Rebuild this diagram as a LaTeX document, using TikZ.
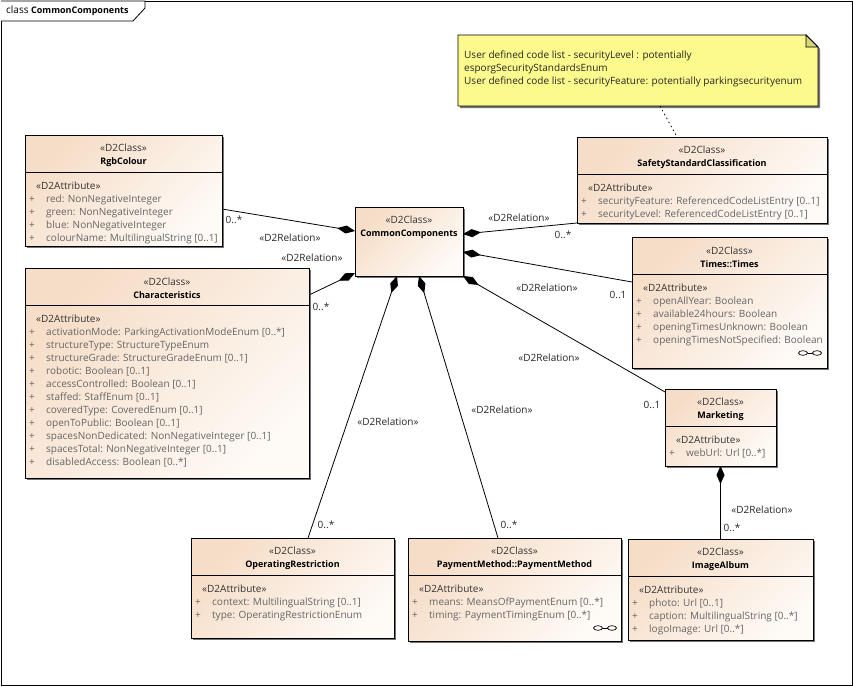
\documentclass[tikz,border=0pt]{standalone}
\usepackage{fontspec}
\setmainfont{Open Sans}
\usetikzlibrary{arrows.meta,shadows,backgrounds}
\definecolor{peach}{RGB}{246,221,199}
\definecolor{peachlight}{RGB}{254,250,246}
\definecolor{noteyellow}{RGB}{252,250,140}
\def\attr#1{\makebox[18pt][l]{\hspace*{1pt}+}#1}
\def\clsname#1{\textcolor{black}{\fontsize{9}{13}\selectfont\textbf{#1}}}
\def\linkicon(#1,#2){\draw[line width=0.7pt] (#1-7,#2) ellipse [x radius=4.5pt, y radius=2.3pt] (#1+7,#2) ellipse [x radius=4.5pt, y radius=2.3pt]; \draw[line width=0.7pt] (#1-2.5,#2) -- (#1+2.5,#2);}
\def\umlclass#1#2#3#4#5#6#7{%
	\node[classbox, minimum width={#4-#2}, minimum height={#5-#3}] (#1) at (#2,#3) {};
	\draw[line width=0.8pt] (#2,#3+37) -- (#4,#3+37);
	\node[classtitle] (#1T) at ({(#2+#4)/2},#3+20.5) {«D2Class»\\\clsname{#6}};
	\node[attrlist] (#1A) at (#2+3,#3+47) {\textcolor{black!80}{\hspace*{8pt}«D2Attribute»}\\#7};
}

\begin{document}
\begin{tikzpicture}[x=1pt,y=-1pt,
	classbox/.style={draw, line width=0.8pt, inner sep=0, outer sep=0, anchor=north west, top color=peach, bottom color=peachlight, shading angle=45, drop shadow={shadow xshift=2pt, shadow yshift=-2pt, fill=black!55, opacity=1}},
	classtitle/.style={align=center, inner sep=0, font=\fontsize{10}{13}\selectfont, text=black!80},
	attrlist/.style={align=left, anchor=north west, inner sep=0, font=\fontsize{10}{13}\selectfont, text=black!60},
	rel/.style={line width=0.8pt, {Diamond[length=18pt,width=8pt]}-},
	lbl/.style={inner sep=0, font=\fontsize{10}{12}\selectfont, text=black!85}]
			%%%%% FRAME %%%%%
			\useasboundingbox (0,0) rectangle (853,686);
			\draw[line width=0.8pt] (1,1) rectangle (852,685);
			\draw[line width=0.8pt, fill=white] (1,1) -- (145,1) -- (145,8) -- (133,21) -- (1,21);
			\node[anchor=west, inner sep=0, font=\fontsize{10}{12}\selectfont] (tab) at (6,11) {class \clsname{CommonComponents}};
			
			%%%%% NOTE %%%%%
			\node[minimum width=360, minimum height=71, inner sep=0, outer sep=0, anchor=north west] (note) at (458,35) {};
			\begin{scope}[on background layer]
				\draw[line width=0.8pt, fill=noteyellow, drop shadow={shadow xshift=2pt, shadow yshift=-2pt, fill=black!55, opacity=1}] (note.south west) -- (note.north west) -- ([xshift=-12pt]note.north east) -- ([yshift=-12pt]note.north east) -- (note.south east) -- cycle;
				\draw[line width=0.8pt, fill=noteyellow!85!black] ([xshift=-12pt]note.north east) -- ([xshift=-12pt,yshift=-12pt]note.north east) -- ([yshift=-12pt]note.north east) -- cycle;
			\end{scope}
			\node[anchor=north west, align=left, inner sep=0, font=\fontsize{10}{13}\selectfont, text=black!85] (noteT) at (464,51) {User defined code list - securityLevel : potentially\\esporgSecurityStandardsEnum\\User defined code list - securityFeature: potentially parkingsecurityenum};
			
			%%%%% CLASSES %%%%%
			\node[classbox, minimum width=108, minimum height=69] (cc) at (355,207) {};
			\node[classtitle] (ccT) at (409,227.5) {«D2Class»\\\clsname{CommonComponents}};
			
			\umlclass{rgb}{25}{135}{222}{246}{RgbColour}{\attr{red: NonNegativeInteger}\\\attr{green: NonNegativeInteger}\\\attr{blue: NonNegativeInteger}\\\attr{colourName: MultilingualString [0..1]}}
			
			\umlclass{chars}{25}{268}{309}{478}{Characteristics}{\attr{activationMode: ParkingActivationModeEnum [0..*]}\\\attr{structureType: StructureTypeEnum}\\\attr{structureGrade: StructureGradeEnum [0..1]}\\\attr{robotic: Boolean [0..1]}\\\attr{accessControlled: Boolean [0..1]}\\\attr{staffed: StaffEnum [0..1]}\\\attr{coveredType: CoveredEnum [0..1]}\\\attr{openToPublic: Boolean [0..1]}\\\attr{spacesNonDedicated: NonNegativeInteger [0..1]}\\\attr{spacesTotal: NonNegativeInteger [0..1]}\\\attr{disabledAccess: Boolean [0..*]}}
			
			\umlclass{ssc}{577}{137}{827}{223}{SafetyStandardClassification}{\attr{securityFeature: ReferencedCodeListEntry [0..1]}\\\attr{securityLevel: ReferencedCodeListEntry [0..1]}}
			
			\umlclass{times}{632}{237}{827}{368}{Times::Times}{\attr{openAllYear: Boolean}\\\attr{available24hours: Boolean}\\\attr{openingTimesUnknown: Boolean}\\\attr{openingTimesNotSpecified: Boolean}}
			\linkicon(810,353)
			
			\umlclass{mkt}{665}{389}{776}{466}{Marketing}{\attr{webUrl: Url [0..*]}}
			
			\umlclass{ia}{628}{539}{813}{640}{ImageAlbum}{\attr{photo: Url [0..1]}\\\attr{caption: MultilingualString [0..*]}\\\attr{logoImage: Url [0..*]}}
			
			\umlclass{opr}{191}{538}{394}{638}{OperatingRestriction}{\attr{context: MultilingualString [0..1]}\\\attr{type: OperatingRestrictionEnum}}
			
			\umlclass{pay}{408}{538}{621}{641}{PaymentMethod::PaymentMethod}{\attr{means: MeansOfPaymentEnum [0..*]}\\\attr{timing: PaymentTimingEnum [0..*]}}
			\linkicon(605,628)
			
			%%%%% RELATIONS %%%%%
			\draw[line width=0.8pt, dash pattern=on 1.5pt off 3pt] (note.south -| 660,0) -- (ssc.north -| 677,0);
			
			\draw[rel] (cc.west |- 0,231) -- (rgb.east |- 0,209);
			\node[lbl] (rgbM) at (234,220) {0..*};
			\node[lbl] (rgbR) at (290,238) {«D2Relation»};
			
			\draw[rel] (cc.west |- 0,273) -- (chars.east |- 0,295);
			\node[lbl] (charsM) at (321,307) {0..*};
			\node[lbl] (charsR) at (312,258) {«D2Relation»};
			
			\draw[rel] (cc.east |- 0,234) -- (ssc.south west);
			\node[lbl] (sscM) at (563,235) {0..*};
			\node[lbl] (sscR) at (519,218) {«D2Relation»};
			
			\draw[rel] (cc.east |- 0,252) -- (times.west |- 0,282);
			\node[lbl] (timesM) at (618,295) {0..1};
			\node[lbl] (timesR) at (547,288) {«D2Relation»};
			
			\draw[rel] (cc.south east) -- (mkt.west |- 0,392);
			\node[lbl] (mktM) at (652,405) {0..1};
			\node[lbl] (mktR) at (549,358) {«D2Relation»};
			
			\draw[rel] (cc.south -| 397,0) -- (opr.north -| 308,0);
			\node[lbl] (oprM) at (326,525) {0..*};
			\node[lbl] (oprR) at (388,422) {«D2Relation»};
			
			\draw[rel] (cc.south -| 419,0) -- (pay.north -| 498,0);
			\node[lbl] (payM) at (509,525) {0..*};
			\node[lbl] (payR) at (502,410) {«D2Relation»};
			
			\draw[rel] (mkt.south) -- (ia.north -| mkt.south);
			\node[lbl] (iaM) at (732,528) {0..*};
			\node[lbl] (iaR) at (762,510) {«D2Relation»};
			
\end{tikzpicture}
\end{document}
